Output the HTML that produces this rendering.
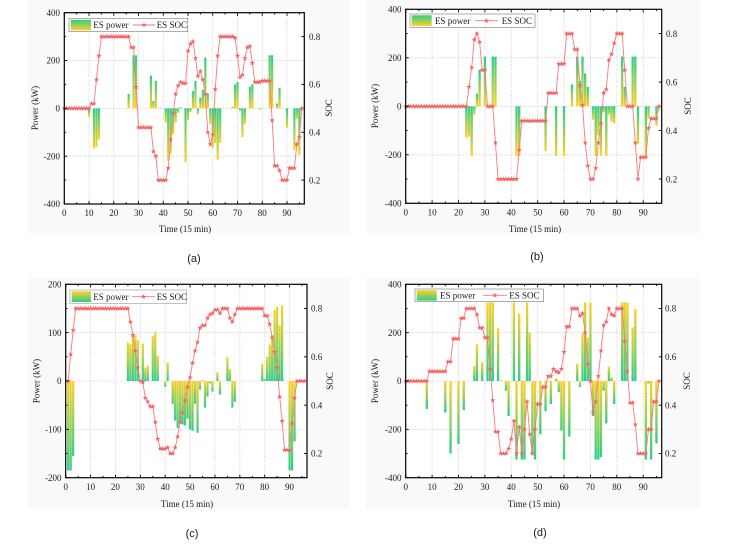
<!DOCTYPE html>
<html><head><meta charset="utf-8">
<style>
html,body{margin:0;padding:0;background:#fff;}
svg{display:block;}
text{font-family:"Liberation Serif",serif;fill:#1a1a1a;}
.t{font-size:9px;}
.tm{font-size:9px;text-anchor:middle;}
.te{font-size:9px;text-anchor:end;}
.lab{font-size:9px;text-anchor:middle;}
.cap{font-family:"Liberation Sans",sans-serif;font-size:11px;text-anchor:middle;}
.lg{font-size:9px;}
</style></head>
<body>
<svg id="s" width="730" height="556" viewBox="0 0 730 556" xmlns="http://www.w3.org/2000/svg" xmlns:xlink="http://www.w3.org/1999/xlink">
<defs>
<linearGradient id="gy" x1="0" y1="0" x2="0" y2="1"><stop offset="0" stop-color="#2ecf86"/><stop offset="1" stop-color="#fdd12b"/></linearGradient>
<linearGradient id="yg" x1="0" y1="0" x2="0" y2="1"><stop offset="0" stop-color="#fdd12b"/><stop offset="1" stop-color="#2ecf86"/></linearGradient>
<path id="star" d="M0,-2.8L0.676,-0.93L2.663,-0.865L1.094,0.355L1.646,2.265L0,1.15L-1.646,2.265L-1.094,0.355L-2.663,-0.865L-0.676,-0.93Z"/>
</defs>
<rect x="0" y="0" width="730" height="556" fill="#fff"/>
<rect x="28" y="0" width="322" height="233" fill="#f9f9f9"/>
<rect x="366" y="0" width="334" height="233" fill="#f9f9f9"/>
<rect x="28" y="278" width="322" height="231" fill="#f9f9f9"/>
<rect x="366" y="278" width="334" height="231" fill="#f9f9f9"/>
<g id="plots"></g>

<!-- Panel (a) labels -->
<text class="te" x="60" y="15.9">400</text>
<text class="te" x="60" y="63.7">200</text>
<text class="te" x="60" y="111.5">0</text>
<text class="te" x="60" y="159.4">-200</text>
<text class="te" x="60" y="207.2">-400</text>
<text class="tm" x="64.3" y="216">0</text>
<text class="tm" x="89.0" y="216">10</text>
<text class="tm" x="113.8" y="216">20</text>
<text class="tm" x="138.5" y="216">30</text>
<text class="tm" x="163.3" y="216">40</text>
<text class="tm" x="188.0" y="216">50</text>
<text class="tm" x="212.8" y="216">60</text>
<text class="tm" x="237.5" y="216">70</text>
<text class="tm" x="262.2" y="216">80</text>
<text class="tm" x="287.0" y="216">90</text>
<text class="t" x="309" y="39.8">0.8</text>
<text class="t" x="309" y="87.6">0.6</text>
<text class="t" x="309" y="135.5">0.4</text>
<text class="t" x="309" y="183.3">0.2</text>
<text class="lab" transform="translate(38,108) rotate(-90)">Power (kW)</text>
<text class="lab" transform="translate(332,108) rotate(-90)">SOC</text>
<text class="lab" x="185" y="232">Time (15 min)</text>
<text class="cap" x="194" y="262">(a)</text>

<!-- Panel (b) labels -->
<text class="te" x="401.5" y="12.5">400</text>
<text class="te" x="401.5" y="61">200</text>
<text class="te" x="401.5" y="109.5">0</text>
<text class="te" x="401.5" y="158">-200</text>
<text class="te" x="401.5" y="206.5">-400</text>
<text class="tm" x="405.7" y="215.5">0</text>
<text class="tm" x="432.1" y="215.5">10</text>
<text class="tm" x="458.5" y="215.5">20</text>
<text class="tm" x="484.9" y="215.5">30</text>
<text class="tm" x="511.3" y="215.5">40</text>
<text class="tm" x="537.7" y="215.5">50</text>
<text class="tm" x="564.1" y="215.5">60</text>
<text class="tm" x="590.4" y="215.5">70</text>
<text class="tm" x="616.8" y="215.5">80</text>
<text class="tm" x="643.2" y="215.5">90</text>
<text class="t" x="666" y="36.8">0.8</text>
<text class="t" x="666" y="85.3">0.6</text>
<text class="t" x="666" y="133.8">0.4</text>
<text class="t" x="666" y="182.3">0.2</text>
<text class="lab" transform="translate(378,106) rotate(-90)">Power (kW)</text>
<text class="lab" transform="translate(691,106) rotate(-90)">SOC</text>
<text class="lab" x="535" y="232">Time (15 min)</text>
<text class="cap" x="537" y="260">(b)</text>

<!-- Panel (c) labels -->
<text class="te" x="61.5" y="287.5">200</text>
<text class="te" x="61.5" y="335.9">100</text>
<text class="te" x="61.5" y="384.2">0</text>
<text class="te" x="61.5" y="432.6">-100</text>
<text class="te" x="61.5" y="480.9">-200</text>
<text class="tm" x="65.7" y="490">0</text>
<text class="tm" x="90.6" y="490">10</text>
<text class="tm" x="115.4" y="490">20</text>
<text class="tm" x="140.3" y="490">30</text>
<text class="tm" x="165.2" y="490">40</text>
<text class="tm" x="190.0" y="490">50</text>
<text class="tm" x="214.9" y="490">60</text>
<text class="tm" x="239.8" y="490">70</text>
<text class="tm" x="264.6" y="490">80</text>
<text class="tm" x="289.5" y="490">90</text>
<text class="t" x="311" y="311.7">0.8</text>
<text class="t" x="311" y="360">0.6</text>
<text class="t" x="311" y="408.4">0.4</text>
<text class="t" x="311" y="456.7">0.2</text>
<text class="lab" transform="translate(39.5,381) rotate(-90)">Power (kW)</text>
<text class="lab" transform="translate(333,381) rotate(-90)">SOC</text>
<text class="lab" x="187" y="507">Time (15 min)</text>
<text class="cap" x="192" y="537">(c)</text>

<!-- Panel (d) labels -->
<text class="te" x="401.5" y="287.5">400</text>
<text class="te" x="401.5" y="335.9">200</text>
<text class="te" x="401.5" y="384.2">0</text>
<text class="te" x="401.5" y="432.6">-200</text>
<text class="te" x="401.5" y="480.9">-400</text>
<text class="tm" x="405.7" y="490">0</text>
<text class="tm" x="432.1" y="490">10</text>
<text class="tm" x="458.5" y="490">20</text>
<text class="tm" x="484.9" y="490">30</text>
<text class="tm" x="511.3" y="490">40</text>
<text class="tm" x="537.7" y="490">50</text>
<text class="tm" x="564.1" y="490">60</text>
<text class="tm" x="590.4" y="490">70</text>
<text class="tm" x="616.8" y="490">80</text>
<text class="tm" x="643.2" y="490">90</text>
<text class="t" x="665" y="311.7">0.8</text>
<text class="t" x="665" y="360">0.6</text>
<text class="t" x="665" y="408.4">0.4</text>
<text class="t" x="665" y="456.7">0.2</text>
<text class="lab" transform="translate(378,381) rotate(-90)">Power (kW)</text>
<text class="lab" transform="translate(690,381) rotate(-90)">SOC</text>
<text class="lab" x="534" y="507">Time (15 min)</text>
<text class="cap" x="540" y="536">(d)</text>

<!-- Legends -->
<g>
<rect x="69" y="18.3" width="118.7" height="13.4" fill="#fff" stroke="#777" stroke-width="0.6"/>
<rect x="70.7" y="19.8" width="20.3" height="10.5" fill="url(#gy)"/>
<text class="lg" x="93.3" y="28.2">ES power</text>
<line x1="132.7" y1="25" x2="155" y2="25" stroke="#f87a7a" stroke-width="0.9"/>
<use href="#star" xlink:href="#star" x="144" y="25" fill="#f56565"/>
<text class="lg" x="156.7" y="28.2">ES SOC</text>
</g>
<g>
<rect x="410" y="14" width="125" height="13.3" fill="#fff" stroke="#777" stroke-width="0.6"/>
<rect x="411.7" y="15.3" width="20" height="10.7" fill="url(#gy)"/>
<text class="lg" x="435" y="24">ES power</text>
<line x1="475" y1="20.7" x2="498" y2="20.7" stroke="#f87a7a" stroke-width="0.9"/>
<use href="#star" xlink:href="#star" x="486.5" y="20.7" fill="#f56565"/>
<text class="lg" x="501.7" y="24">ES SOC</text>
</g>
<g>
<rect x="70" y="290" width="116.7" height="13.3" fill="#fff" stroke="#999" stroke-width="0.6"/>
<rect x="71.7" y="291.3" width="19.3" height="10.7" fill="url(#yg)"/>
<text class="lg" x="93.3" y="300">ES power</text>
<line x1="132" y1="296.7" x2="155" y2="296.7" stroke="#f87a7a" stroke-width="0.9"/>
<use href="#star" xlink:href="#star" x="143.5" y="296.7" fill="#f56565"/>
<text class="lg" x="156.7" y="300">ES SOC</text>
</g>
<g>
<rect x="415" y="289" width="128.3" height="12.7" fill="#fff" stroke="#777" stroke-width="0.6"/>
<rect x="416.7" y="290.2" width="20" height="10.4" fill="url(#yg)"/>
<text class="lg" x="440" y="298.6">ES power</text>
<line x1="483" y1="295.3" x2="507" y2="295.3" stroke="#f87a7a" stroke-width="0.9"/>
<use href="#star" xlink:href="#star" x="495" y="295.3" fill="#f56565"/>
<text class="lg" x="509.3" y="298.6">ES SOC</text>
</g>
</svg>
<script>
(function(){
var NS="http://www.w3.org/2000/svg";
var root=document.getElementById('plots');
function el(tag,attrs,parent){var e=document.createElementNS(NS,tag);for(var k in attrs)e.setAttribute(k,attrs[k]);parent.appendChild(e);return e;}
function seq(segs){var a=[];segs.forEach(function(s){for(var i=0;i<s[1];i++)a.push(s[0]);});return a;}
function panel(p){
  var g=el('g',{},root);
  var kx=(p.R-p.L)/97;
  function X(t){return p.L+t*kx;}
  function YP(v){return p.B-(v-p.pmin)/(p.pmax-p.pmin)*(p.B-p.T);}
  function YS(s){return p.B-(s-0.1)/0.8*(p.B-p.T);}
  el('rect',{x:p.L,y:p.T,width:p.R-p.L,height:p.B-p.T,fill:'#fff'},g);
  var gs={stroke:'#c4c4c4','stroke-width':0.8,'stroke-dasharray':'1,1.6'};
  for(var t=10;t<=90;t+=10){var a={x1:X(t),x2:X(t),y1:p.T,y2:p.B};for(var k in gs)a[k]=gs[k];el('line',a,g);}
  for(var v=p.pmin+p.pstep;v<p.pmax-1e-6;v+=p.pstep){var a2={x1:p.L,x2:p.R,y1:YP(v),y2:YP(v)};for(var k2 in gs)a2[k2]=gs[k2];el('line',a2,g);}
  var w=kx*0.88;
  p.bars.forEach(function(b){var y0=YP(0),y1=YP(b[1]);var h=Math.abs(y1-y0);if(h<0.6)h=0.6;
    el('rect',{x:X(b[0])-w/2,y:Math.min(y0,y1),width:w,height:h,fill:'url(#'+p.grad+')'},g);});
  var pts=p.soc.map(function(s,i){return X(i+p.t0).toFixed(2)+','+YS(s).toFixed(2);}).join(' ');
  el('polyline',{points:pts,fill:'none',stroke:'#f87a7a','stroke-width':0.9,'stroke-linejoin':'round'},g);
  p.soc.forEach(function(s,i){var u=el('use',{x:X(i+p.t0).toFixed(2),y:YS(s).toFixed(2),fill:'#f56565'},g);
    u.setAttribute('href','#star');u.setAttributeNS('http://www.w3.org/1999/xlink','xlink:href','#star');});
  el('rect',{x:p.L,y:p.T,width:p.R-p.L,height:p.B-p.T,fill:'none',stroke:'#000','stroke-width':1.2},g);
  var ts={stroke:'#000','stroke-width':0.9};
  function tl(x1,y1,x2,y2){var a={x1:x1,y1:y1,x2:x2,y2:y2};for(var k in ts)a[k]=ts[k];el('line',a,g);}
  for(var t2=0;t2<=95;t2+=5){var len=(t2%10==0)?3:1.8;tl(X(t2),p.B,X(t2),p.B-len);tl(X(t2),p.T,X(t2),p.T+len);}
  var half=p.pstep/2;
  for(var i=0;p.pmin+i*half<=p.pmax+1e-6;i++){var vv=p.pmin+i*half;var l2=(i%2==0)?3:1.8;tl(p.L,YP(vv),p.L+l2,YP(vv));}
  [0.2,0.4,0.6,0.8].forEach(function(s){tl(p.R,YS(s),p.R-3,YS(s));});
}
panel({L:64.3,R:304.3,T:12.7,B:204,pmin:-400,pmax:400,pstep:200,grad:'gy',t0:0,
 soc:seq([[0.5,11],[0.52,2],[0.62,1],[0.72,1],[0.8,12],[0.755,2],[0.59,1],[0.42,6],[0.32,1],[0.30,1],[0.2,4],[0.25,1],[0.37,1],[0.48,1],[0.56,1],[0.595,1],[0.61,1],[0.605,2],[0.74,1],[0.77,1],[0.78,1],[0.71,1],[0.635,1],[0.655,1],[0.62,1],[0.56,1],[0.40,1],[0.35,1],[0.39,1],[0.58,1],[0.72,1],[0.8,6],[0.795,1],[0.72,1],[0.63,1],[0.64,1],[0.71,1],[0.755,1],[0.76,1],[0.69,1],[0.61,3],[0.615,4],[0.45,1],[0.26,2],[0.24,1],[0.2,3],[0.25,3],[0.35,1],[0.38,1],[0.5,1]]),
 bars:[[10,-35],[12,-168],[13,-162],[14,-130],[26,60],[28,222],[29,222],[35,137],[36,30],[37,115],[39,3],[41,-60],[42,-220],[43,-190],[44,-110],[45,-60],[46,-20],[47,5],[49,-225],[50,-50],[51,-15],[52,72],[53,115],[54,-25],[55,45],[56,78],[57,212],[58,62],[59,-65],[60,-165],[61,-145],[62,-215],[63,-145],[68,5],[69,100],[70,110],[71,-10],[72,-120],[73,-65],[75,90],[76,100],[79,-5],[83,222],[84,222],[86,20],[87,85],[90,-80],[93,-175],[94,-45],[95,-195]]});
panel({L:405.7,R:661.7,T:9.3,B:203.3,pmin:-400,pmax:400,pstep:200,grad:'gy',t0:0,
 soc:seq([[0.5,24],[0.58,1],[0.66,1],[0.775,1],[0.8,1],[0.765,1],[0.65,2],[0.5,3],[0.35,1],[0.2,8],[0.32,1],[0.44,10],[0.555,4],[0.675,3],[0.8,3],[0.735,2],[0.585,1],[0.505,1],[0.35,1],[0.255,1],[0.2,2],[0.245,1],[0.35,1],[0.43,1],[0.555,1],[0.57,1],[0.69,1],[0.715,1],[0.76,1],[0.8,3],[0.65,1],[0.5,3],[0.35,1],[0.2,1],[0.29,3],[0.41,1],[0.45,3],[0.5,1]]),
 bars:[[23,-130],[24,-125],[25,-205],[26,-35],[27,52],[28,150],[30,205],[33,205],[34,205],[42,-205],[43,-205],[53,-185],[57,-205],[60,-205],[63,90],[65,205],[66,105],[67,205],[68,135],[69,80],[71,-55],[72,-205],[73,-120],[74,-205],[75,-25],[76,-205],[77,-35],[78,-65],[79,-70],[82,205],[83,80],[86,205],[87,205],[88,-155],[91,-205],[92,-50],[95,-80]]});
panel({L:65.7,R:307,T:284.3,B:477.7,pmin:-200,pmax:200,pstep:100,grad:'yg',t0:1,
 soc:seq([[0.5,1],[0.61,1],[0.71,1],[0.8,22],[0.745,1],[0.69,1],[0.625,1],[0.555,1],[0.5,1],[0.495,1],[0.43,1],[0.415,1],[0.395,2],[0.33,1],[0.26,1],[0.22,3],[0.225,1],[0.2,2],[0.225,1],[0.27,1],[0.33,1],[0.37,1],[0.42,1],[0.475,1],[0.515,1],[0.575,1],[0.625,1],[0.66,1],[0.72,1],[0.73,2],[0.76,1],[0.775,1],[0.78,1],[0.795,2],[0.78,1],[0.8,3],[0.76,1],[0.745,1],[0.775,1],[0.8,11],[0.77,2],[0.735,1],[0.68,1],[0.62,1],[0.555,1],[0.435,1],[0.335,1],[0.215,3],[0.325,1],[0.43,1],[0.5,4]]),
 bars:[[1,-185],[2,-185],[3,-155],[25,80],[26,76],[27,96],[28,95],[29,85],[31,77],[32,28],[33,32],[35,93],[36,102],[37,52],[40,-12],[41,38],[43,-47],[44,-82],[45,-97],[46,-85],[47,-90],[48,-92],[49,-78],[50,-100],[51,-103],[52,-47],[53,-107],[54,-18],[55,2],[56,-55],[57,-32],[58,-5],[59,-22],[61,18],[62,-28],[65,49],[66,25],[67,-55],[68,-43],[79,36],[80,5],[81,50],[82,75],[83,95],[84,147],[85,153],[86,115],[87,156],[90,-185],[91,-185],[92,-125]]});
panel({L:405.7,R:661.7,T:284.3,B:477.7,pmin:-400,pmax:400,pstep:200,grad:'yg',t0:0,
 soc:seq([[0.5,9],[0.54,7],[0.58,2],[0.675,3],[0.76,2],[0.8,4],[0.775,1],[0.72,2],[0.68,2],[0.55,1],[0.42,1],[0.29,2],[0.2,3],[0.22,1],[0.26,1],[0.335,1],[0.2,1],[0.31,1],[0.2,1],[0.3,1],[0.415,1],[0.28,1],[0.2,1],[0.3,1],[0.405,2],[0.475,2],[0.52,2],[0.55,1],[0.54,1],[0.535,1],[0.55,1],[0.62,1],[0.725,2],[0.8,3],[0.77,1],[0.78,1],[0.7,1],[0.57,1],[0.5,1],[0.37,1],[0.415,1],[0.52,1],[0.625,1],[0.73,1],[0.745,1],[0.8,1],[0.775,1],[0.77,1],[0.8,3],[0.665,1],[0.54,1],[0.41,2],[0.32,1],[0.2,4],[0.3,2],[0.415,2],[0.5,1]]),
 bars:[[8,-115],[15,-130],[17,-300],[20,-260],[22,-120],[26,62],[27,152],[29,78],[31,325],[32,325],[33,325],[35,218],[36,3],[38,-40],[39,-145],[41,325],[42,-325],[43,278],[44,-325],[45,-325],[46,325],[47,200],[48,-300],[49,-325],[51,-220],[53,-125],[55,-95],[57,10],[58,-45],[59,-205],[60,-325],[62,-230],[65,72],[66,-25],[67,198],[68,325],[69,180],[70,325],[71,-145],[72,-325],[73,-325],[74,-315],[75,-40],[76,-175],[77,60],[78,15],[79,-95],[82,325],[83,325],[84,325],[86,222],[87,298],[91,-325],[92,-10],[93,-325],[95,-258]]});
})();
</script>
</body></html>
